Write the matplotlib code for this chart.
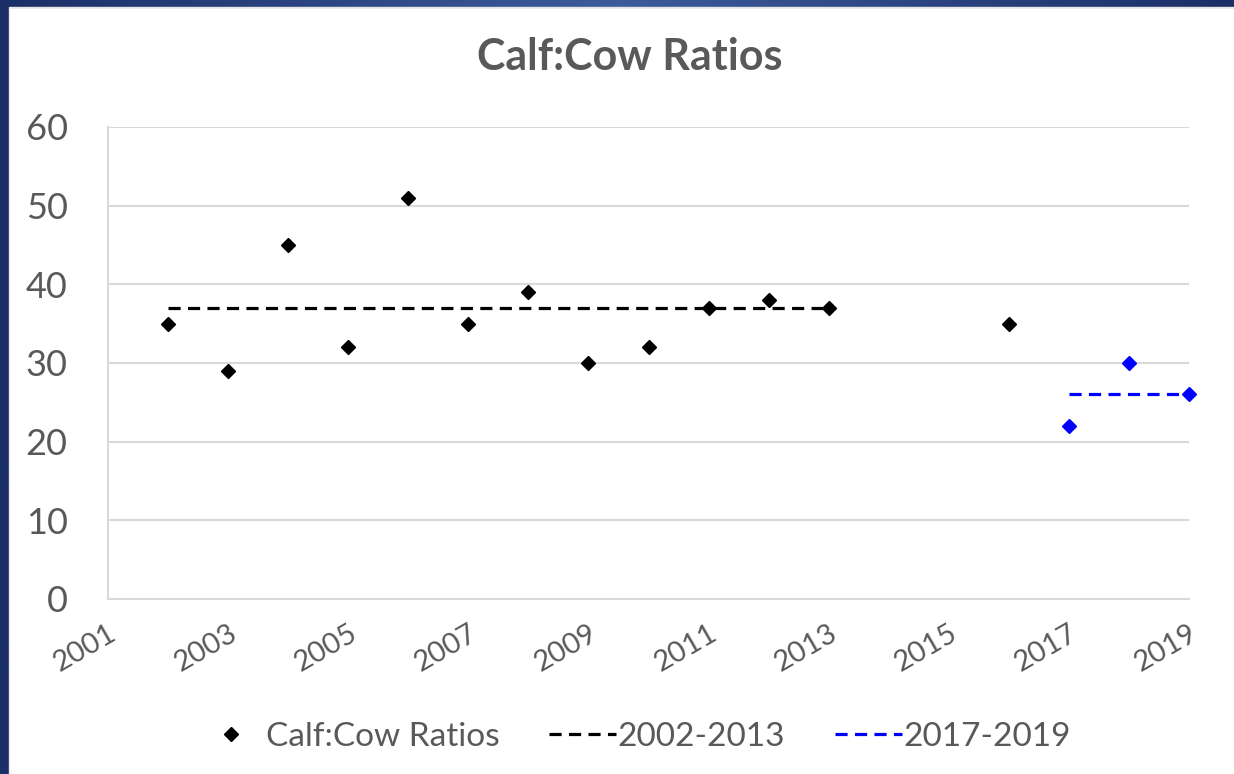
import numpy as np
import matplotlib.pyplot as plt
from matplotlib.colors import LinearSegmentedColormap
from matplotlib.patches import Rectangle

# Calf:Cow ratios
years_early = [2002, 2003, 2004, 2005, 2006, 2007, 2008, 2009, 2010, 2011, 2012, 2013, 2016]
ratios_early = [35, 29, 45, 32, 51, 35, 39, 30, 32, 37, 38, 37, 35]
years_late = [2017, 2018, 2019]
ratios_late = [22, 30, 26]

# average lines
avg1_years = [2002, 2013]
avg1_vals = [37, 37]
avg2_years = [2017, 2019]
avg2_vals = [26, 26]

x_ticks = list(range(2001, 2020, 2))
y_ticks = [0, 10, 20, 30, 40, 50, 60]

txt = "#595959"
grid = "#D9D9D9"
plt.rcParams["font.family"] = ["Lato", "DejaVu Sans"]

W, H = 1234, 774
fig = plt.figure(figsize=(W / 100, H / 100), dpi=100)

# slide background: blue frame on top/left, white card
bg = fig.add_axes([0, 0, 1, 1], zorder=-10)
grad = np.concatenate([np.linspace(0, 1, 300), np.linspace(1, 0, 300)])[None, :]
cmap = LinearSegmentedColormap.from_list("b", ["#1b2f66", "#3c5b9b"])
bg.imshow(grad, aspect="auto", cmap=cmap, extent=[0, 1, 0, 1])
bg.set_xlim(0, 1)
bg.set_ylim(0, 1)
bg.axis("off")
fig.add_artist(Rectangle((9 / W, 0), 1.1, 1 - 7 / H, transform=fig.transFigure,
                         color="#e6e6e6", zorder=-5))
fig.add_artist(Rectangle((10 / W, 0), 1.1, 1 - 9 / H, transform=fig.transFigure,
                         color="white", zorder=-4))

ax = fig.add_axes([108 / W, 1 - 599 / H, 1081 / W, 472 / H])
ax.set_facecolor("none")

ax.plot(years_early, ratios_early, "D", color="black", ms=7.5, label="Calf:Cow Ratios",
        clip_on=False, zorder=3)
ax.plot(avg1_years, avg1_vals, color="black", lw=2.3, dashes=(3.8, 2.3), label="2002-2013")
ax.plot(avg2_years, avg2_vals, color="#0000ff", lw=2.3, dashes=(3.8, 2.3), label="2017-2019",
        clip_on=False)
ax.plot(years_late, ratios_late, "D", color="#0000ff", ms=7.5, clip_on=False, zorder=3)

ax.set_xlim(2001, 2019)
ax.set_ylim(0, 60)
ax.set_xticks(x_ticks)
ax.set_yticks(y_ticks)
ax.set_xticklabels([str(v) for v in x_ticks], rotation=30, ha="right", rotation_mode="anchor",
                   fontsize=21, color=txt)
ax.tick_params(axis="x", length=0, pad=15)
ax.tick_params(axis="y", length=0, pad=29, labelsize=26, labelcolor=txt)
ax.grid(axis="y", color=grid, lw=1.5)
for s in ["top", "right"]:
    ax.spines[s].set_visible(False)
for s in ["left", "bottom"]:
    ax.spines[s].set_color(grid)
    ax.spines[s].set_linewidth(1.5)

fig.text(630 / W, 1 - 57 / H, "Calf:Cow Ratios", ha="center", va="center", fontsize=31,
         fontweight="bold", color=txt)

leg = ax.legend(loc="center", bbox_to_anchor=(634 / W, 1 - 737 / H), bbox_transform=fig.transFigure,
                ncol=3, frameon=False, fontsize=24, handlelength=2.0, columnspacing=1.5,
                handletextpad=0.05)
for t in leg.get_texts():
    t.set_color(txt)

fig.savefig("out.png", dpi=100)
